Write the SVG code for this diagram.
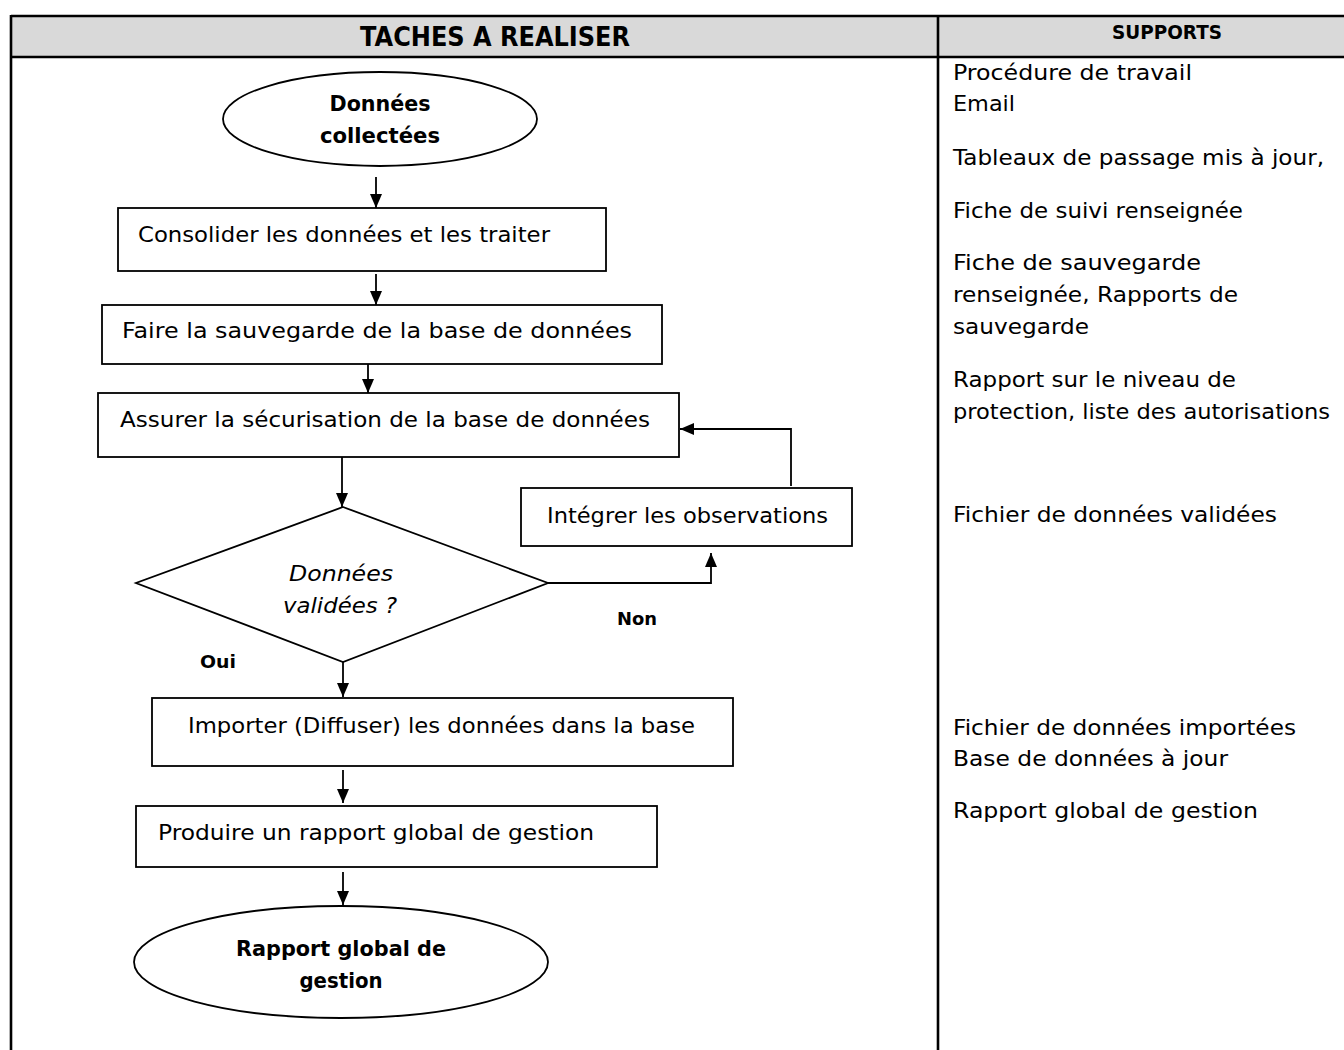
<svg xmlns="http://www.w3.org/2000/svg" width="1344" height="1050" viewBox="0 0 1344 1050">
  <style>
    text { font-family: "Century Gothic", "DejaVu Sans", sans-serif; fill: #000; }
    .hd { font-weight: bold; }
    .t { font-size: 21px; }
    .b { font-size: 21px; font-weight: bold; }
    .i { font-size: 21px; font-style: italic; }
    .lbl { font-size: 18px; font-weight: bold; }
    .sup { font-size: 21px; }
    .shape { fill: #fff; stroke: #000; stroke-width: 1.8; }
    .edge { fill: none; stroke: #000; stroke-width: 1.8; }
    .grid { fill: none; stroke: #000; stroke-width: 2.6; }
  </style>
  <defs>
    <marker id="arrow" viewBox="0 0 14 12" refX="14" refY="6" markerWidth="14" markerHeight="12" markerUnits="userSpaceOnUse" orient="auto">
      <path d="M0,0 L14,6 L0,12 z" fill="#000"/>
    </marker>
  </defs>

  <!-- table frame -->
  <g id="table">
    <rect x="11" y="16" width="1345" height="41" fill="#d9d9d9"/>
    <line class="grid" x1="11" y1="16" x2="1344" y2="16"/>
    <line class="grid" x1="11" y1="57" x2="1344" y2="57"/>
    <line class="grid" x1="11" y1="15" x2="11" y2="1050"/>
    <line class="grid" x1="938" y1="16" x2="938" y2="1050"/>
    <text class="hd" x="360" y="46" font-size="26" textLength="270" lengthAdjust="spacingAndGlyphs">TACHES A REALISER</text>
    <text class="hd" x="1112" y="39" font-size="19" textLength="110" lengthAdjust="spacingAndGlyphs">SUPPORTS</text>
  </g>

  <!-- connectors -->
  <g id="connectors">
    <line class="edge" x1="376" y1="177" x2="376" y2="208" marker-end="url(#arrow)"/>
    <line class="edge" x1="376" y1="274" x2="376" y2="305" marker-end="url(#arrow)"/>
    <line class="edge" x1="368" y1="364" x2="368" y2="393" marker-end="url(#arrow)"/>
    <line class="edge" x1="342" y1="457" x2="342" y2="507" marker-end="url(#arrow)"/>
    <path class="edge" d="M548,583 H711 V553" marker-end="url(#arrow)"/>
    <path class="edge" d="M791,486 V429 H680" marker-end="url(#arrow)"/>
    <line class="edge" x1="343" y1="662" x2="343" y2="697" marker-end="url(#arrow)"/>
    <line class="edge" x1="343" y1="770" x2="343" y2="803" marker-end="url(#arrow)"/>
    <line class="edge" x1="343" y1="872" x2="343" y2="905" marker-end="url(#arrow)"/>
    <text class="lbl" x="617" y="625" textLength="40" lengthAdjust="spacingAndGlyphs">Non</text>
    <text class="lbl" x="200" y="668" textLength="36" lengthAdjust="spacingAndGlyphs">Oui</text>
  </g>

  <!-- start -->
  <g id="start">
    <ellipse class="shape" cx="380" cy="119" rx="157" ry="47"/>
    <text class="b" x="380" y="111" text-anchor="middle" textLength="101" lengthAdjust="spacingAndGlyphs">Données</text>
    <text class="b" x="380" y="143" text-anchor="middle" textLength="120" lengthAdjust="spacingAndGlyphs">collectées</text>
  </g>

  <g id="consolider">
    <rect class="shape" x="118" y="208" width="488" height="63"/>
    <text class="t" x="138" y="242" textLength="412" lengthAdjust="spacingAndGlyphs">Consolider les données et les traiter</text>
  </g>

  <g id="sauvegarde">
    <rect class="shape" x="102" y="305" width="560" height="59"/>
    <text class="t" x="122" y="338" textLength="510" lengthAdjust="spacingAndGlyphs">Faire la sauvegarde de la base de données</text>
  </g>

  <g id="securisation">
    <rect class="shape" x="98" y="393" width="581" height="64"/>
    <text class="t" x="120" y="427" textLength="530" lengthAdjust="spacingAndGlyphs">Assurer la sécurisation de la base de données</text>
  </g>

  <g id="validation">
    <polygon class="shape" points="343,507 548,583 343,662 136,583"/>
    <text class="i" x="341" y="581" text-anchor="middle" textLength="104" lengthAdjust="spacingAndGlyphs">Données</text>
    <text class="i" x="340" y="613" text-anchor="middle" textLength="114" lengthAdjust="spacingAndGlyphs">validées ?</text>
  </g>

  <g id="observations">
    <rect class="shape" x="521" y="488" width="331" height="58"/>
    <text class="t" x="547" y="523" textLength="281" lengthAdjust="spacingAndGlyphs">Intégrer les observations</text>
  </g>

  <g id="importer">
    <rect class="shape" x="152" y="698" width="581" height="68"/>
    <text class="t" x="188" y="733" textLength="507" lengthAdjust="spacingAndGlyphs">Importer (Diffuser) les données dans la base</text>
  </g>

  <g id="produire">
    <rect class="shape" x="136" y="806" width="521" height="61"/>
    <text class="t" x="158" y="840" textLength="436" lengthAdjust="spacingAndGlyphs">Produire un rapport global de gestion</text>
  </g>

  <!-- end -->
  <g id="end">
    <ellipse class="shape" cx="341" cy="962" rx="207" ry="56"/>
    <text class="b" x="341" y="956" text-anchor="middle" textLength="210" lengthAdjust="spacingAndGlyphs">Rapport global de</text>
    <text class="b" x="341" y="988" text-anchor="middle" textLength="83" lengthAdjust="spacingAndGlyphs">gestion</text>
  </g>

  <!-- supports column -->
  <g id="supports">
    <text class="sup" x="953" y="80" textLength="239" lengthAdjust="spacingAndGlyphs">Procédure de travail</text>
    <text class="sup" x="953" y="111" textLength="62" lengthAdjust="spacingAndGlyphs">Email</text>
    <text class="sup" x="953" y="165" textLength="371" lengthAdjust="spacingAndGlyphs">Tableaux de passage mis à jour,</text>
    <text class="sup" x="953" y="218" textLength="290" lengthAdjust="spacingAndGlyphs">Fiche de suivi renseignée</text>
    <text class="sup" x="953" y="270" textLength="248" lengthAdjust="spacingAndGlyphs">Fiche de sauvegarde</text>
    <text class="sup" x="953" y="302" textLength="285" lengthAdjust="spacingAndGlyphs">renseignée, Rapports de</text>
    <text class="sup" x="953" y="334" textLength="136" lengthAdjust="spacingAndGlyphs">sauvegarde</text>
    <text class="sup" x="953" y="387" textLength="283" lengthAdjust="spacingAndGlyphs">Rapport sur le niveau de</text>
    <text class="sup" x="953" y="419" textLength="377" lengthAdjust="spacingAndGlyphs">protection, liste des autorisations</text>
    <text class="sup" x="953" y="522" textLength="324" lengthAdjust="spacingAndGlyphs">Fichier de données validées</text>
    <text class="sup" x="953" y="735" textLength="343" lengthAdjust="spacingAndGlyphs">Fichier de données importées</text>
    <text class="sup" x="953" y="766" textLength="275" lengthAdjust="spacingAndGlyphs">Base de données à jour</text>
    <text class="sup" x="953" y="818" textLength="305" lengthAdjust="spacingAndGlyphs">Rapport global de gestion</text>
  </g>
</svg>
